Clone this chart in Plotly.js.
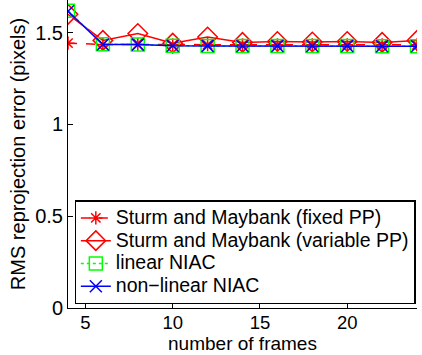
<!DOCTYPE html>
<html>
<head>
<meta charset="utf-8">
<script src="https://cdn.plot.ly/plotly-3.0.1.min.js"></script>
<style>
html,body{margin:0;padding:0;background:#fff;}
#chart{width:422px;height:355px;}
.legendtext{font-size:19.5px !important;}
</style>
</head>
<body>
<div id="chart"></div>
<script>
const frames = [4, 6, 8, 10, 12, 14, 16, 18, 20, 22, 24];
const fixedPP = [1.443, 1.436, 1.436, 1.434, 1.435, 1.434, 1.434, 1.434, 1.434, 1.434, 1.434];
const variablePP = [1.600, 1.458, 1.495, 1.443, 1.476, 1.447, 1.452, 1.449, 1.452, 1.447, 1.458];
const linearNIAC = [1.620, 1.437, 1.436, 1.429, 1.428, 1.427, 1.427, 1.427, 1.427, 1.426, 1.426];
const nonlinearNIAC = [1.617, 1.436, 1.435, 1.429, 1.428, 1.427, 1.427, 1.427, 1.427, 1.426, 1.426];
const seriesNames = ['Sturm and Maybank (fixed PP)', 'Sturm and Maybank (variable PP)', 'linear NIAC', 'non\u2212linear NIAC'];
const xTicks = [5, 10, 15, 20];
const yTicks = [0, 0.5, 1, 1.5];
const yTickText = ['0', '0.5', '1', '1.5'];

const FONT = 'Liberation Sans, Arial, Helvetica, sans-serif';

const traces = [
  {x: frames, y: fixedPP, name: seriesNames[0], mode: 'lines+markers',
   line: {color: '#ff0000', width: 1.5, dash: 'dash'},
   marker: {symbol: 'asterisk-open', size: 11, color: '#ff0000', line: {color: '#ff0000', width: 1.5}}},
  {x: frames, y: variablePP, name: seriesNames[1], mode: 'lines+markers',
   line: {color: '#ff0000', width: 1.5},
   marker: {symbol: 'diamond-open', size: 15, color: '#ff0000', line: {color: '#ff0000', width: 1.5}}},
  {x: frames, y: linearNIAC, name: seriesNames[2], mode: 'lines+markers',
   line: {color: '#00ff00', width: 1.5, dash: 'dot'},
   marker: {symbol: 'square-open', size: 13, color: '#00ff00', line: {color: '#00ff00', width: 1.5}}},
  {x: frames, y: nonlinearNIAC, name: seriesNames[3], mode: 'lines+markers',
   line: {color: '#0000ff', width: 1.5},
   marker: {symbol: 'x-thin-open', size: 12, color: '#0000ff', line: {color: '#0000ff', width: 1.5}}}
];

const layout = {
  width: 422, height: 355,
  margin: {l: 67.5, r: 5, t: 0, b: 46.5, autoexpand: false},
  paper_bgcolor: '#ffffff', plot_bgcolor: '#ffffff',
  font: {family: FONT, size: 20, color: '#000'},
  showlegend: true,
  legend: {x: 0.019, y: 0.012, xanchor: 'left', yanchor: 'bottom',
           bordercolor: '#000', borderwidth: 1.2, bgcolor: '#fff',
           font: {family: FONT, size: 15.2, color: '#000'},
           tracegroupgap: 0, itemwidth: 30},
  xaxis: {range: [4, 24], tickvals: xTicks, ticks: 'inside', ticklen: 5, tickcolor: '#000',
          showline: true, linecolor: '#000', linewidth: 1, showgrid: false, zeroline: false,
          tickfont: {family: FONT, size: 18.5}, mirror: false, ticklabelstandoff: -2,
          title: {text: 'number of frames', font: {family: FONT, size: 19}, standoff: 2}},
  yaxis: {range: [0, 1.678], tickvals: yTicks, ticktext: yTickText, ticks: 'inside', ticklen: 5, tickcolor: '#000',
          showline: true, linecolor: '#000', linewidth: 1, showgrid: false, zeroline: false,
          tickfont: {family: FONT, size: 20}, mirror: false,
          title: {text: 'RMS reprojection error (pixels)', font: {family: FONT, size: 20}, standoff: 4}}
};

Plotly.newPlot('chart', traces, layout, {displayModeBar: false, staticPlot: true});
</script>
</body>
</html>
